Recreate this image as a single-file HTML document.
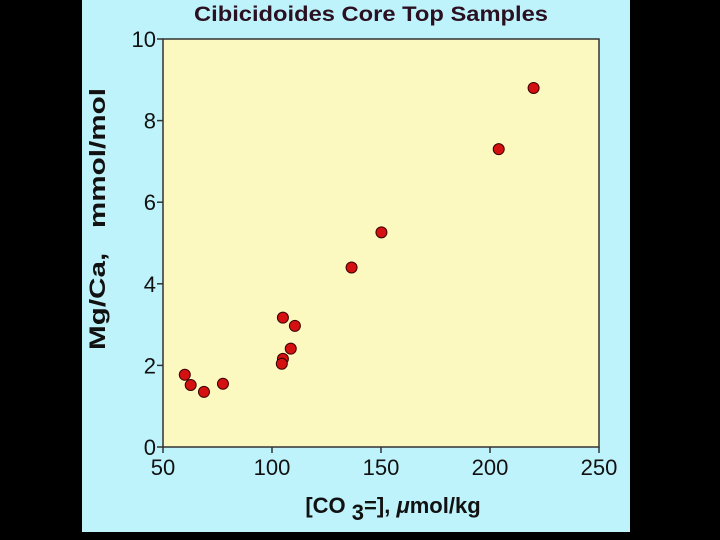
<!DOCTYPE html>
<html><head><meta charset="utf-8"><style>
html,body{margin:0;padding:0;background:#000;width:720px;height:540px;overflow:hidden}
svg{display:block}
text{font-family:"Liberation Sans",sans-serif}
</style></head><body>
<svg id="c" width="720" height="540">
<rect x="82" y="0" width="548" height="532" fill="#bff3fb"/>
<rect x="163" y="39" width="436" height="408" fill="#fbf8c0" stroke="#333" stroke-width="1.5"/>
<text x="371" y="21" text-anchor="middle" font-size="21" font-weight="bold" fill="#2a1020" textLength="354" lengthAdjust="spacingAndGlyphs">Cibicidoides Core Top Samples</text>
<text x="393" y="513" text-anchor="middle" font-size="22" font-weight="bold" fill="#111">[CO <tspan dy="7">3</tspan><tspan dy="-7">=], </tspan><tspan font-style="italic">μ</tspan>mol/kg</text>
<text transform="translate(105,219) rotate(-90)" text-anchor="middle" font-size="22" font-weight="bold" fill="#111" textLength="262" lengthAdjust="spacingAndGlyphs">Mg/Ca,&#160;&#160;&#160;mmol/mol</text>
<g id="ax"></g><g id="pts"></g>
</svg>
<script>
const xTicks=[50,100,150,200,250];
const yTicks=[0,2,4,6,8,10];
const co3=[60,62.7,68.8,77.5,105,110.5,105,104.5,108.6,136.5,150.2,204,220];
const mgca=[1.77,1.52,1.35,1.55,3.17,2.97,2.16,2.04,2.41,4.40,5.26,7.30,8.80];
const X=v=>163+(v-50)*436/200, Y=v=>447-v*408/10;
const ns="http://www.w3.org/2000/svg";
const ax=document.getElementById('ax'), pts=document.getElementById('pts');
function mk(t,a,p){const e=document.createElementNS(ns,t);for(const k in a)e.setAttribute(k,a[k]);p.appendChild(e);return e;}
xTicks.forEach(v=>{
 const l=mk('line',{x1:X(v),x2:X(v),y1:447,y2:453,stroke:'#333','stroke-width':1.5},ax);
 
 
 const t=mk('text',{x:X(v),y:475,'text-anchor':'middle','font-size':22,fill:'#111'},ax);t.textContent=v;
 
 
});
yTicks.forEach(v=>{
 const l=mk('line',{x1:157,x2:163,y1:Y(v),y2:Y(v),stroke:'#333','stroke-width':1.5},ax);
 
 
 const t=mk('text',{x:156,y:Y(v)+8,'text-anchor':'end','font-size':22,fill:'#111'},ax);t.textContent=v;
 
 
});
co3.forEach((v,i)=>{
 const c=mk('circle',{cx:X(v),cy:Y(mgca[i]),r:5.5,fill:'#d41010',stroke:'#3a0000','stroke-width':1},pts);
 
 
});
</script>
</body></html>
